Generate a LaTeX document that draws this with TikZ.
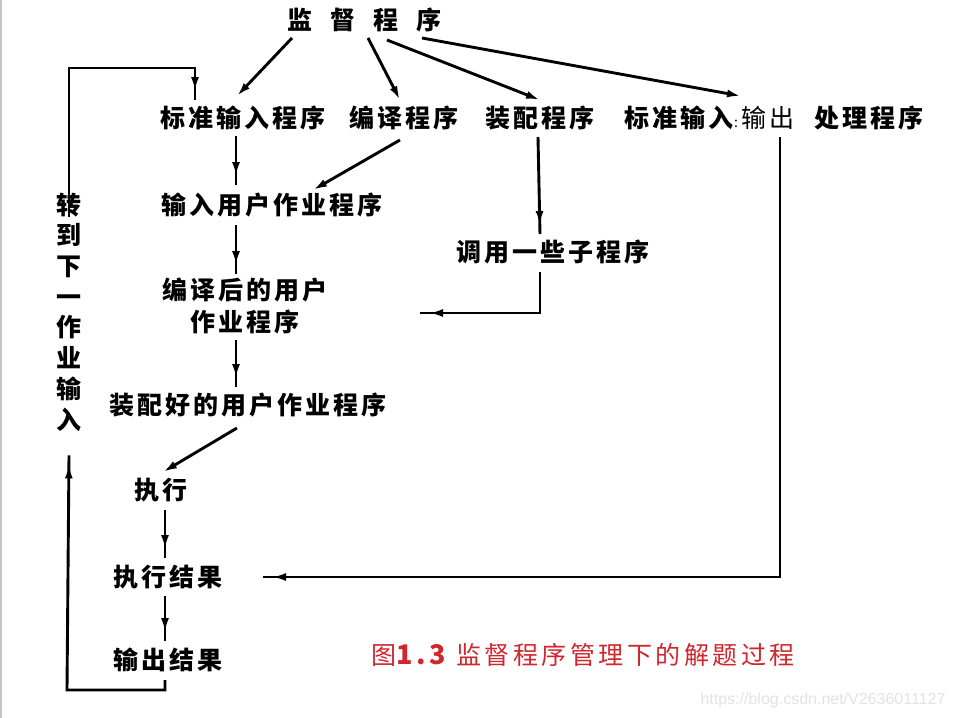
\documentclass[tikz,border=0pt]{standalone}
\usepackage{fontspec}
\usetikzlibrary{arrows.meta,decorations.markings}
\newfontfamily\cjk[LetterSpace=12]{Noto Sans CJK SC}
\newfontfamily\cjkcap[LetterSpace=14]{Noto Sans CJK SC}
\newfontfamily\wmfont{Liberation Sans}
\definecolor{capred}{RGB}{210,38,46}
\tikzset{
  lbl/.style={inner sep=0pt, font=\cjk\bfseries\fontsize{25}{30}\selectfont},
  conn/.style={line width=2.9pt, draw=black},
  arr/.style={conn, postaction={decorate},
    decoration={markings, mark=at position -9pt with {\arrow{Latex[length=14pt,width=8pt]}}}},
  arrend/.style={conn, -{Latex[length=14pt,width=8pt]}},
}
\begin{document}
\begin{tikzpicture}[x=1pt,y=-1pt]
\useasboundingbox (0,0) rectangle (954,718);
\fill[white] (0,0) rectangle (954,718);
\draw[gray!45, line width=2pt] (1,0) -- (1,718);

% nodes
\node[lbl] (title) at (364,20) {监\hspace{18pt}督\hspace{18pt}程\hspace{18pt}序};
\node[lbl] (n1) at (243,118) {标准输入程序};
\node[lbl] (n2) at (404,118) {编译程序};
\node[lbl] (n3) at (540,118) {装配程序};
\node[lbl] (n4) at (774,118) {标准输入\hspace{1pt}{\mdseries\fontsize{14}{14}\selectfont :}\hspace{4pt}{\mdseries 输出}\hspace{20pt}处理程序};
\node[lbl] (n5) at (272,205) {输入用户作业程序};
\node[lbl] (n6) at (553,252) {调用一些子程序};
\node[lbl, align=center, font=\cjk\bfseries\fontsize{25}{32}\selectfont] (n7) at (245,306) {编译后的用户\\作业程序};
\node[lbl] (n8) at (248,405) {装配好的用户作业程序};
\node[lbl] (n9) at (161,490) {执行};
\node[lbl] (n10) at (168,577) {执行结果};
\node[lbl] (n11) at (168,660) {输出结果};
\node[lbl, align=center, font=\cjk\bfseries\fontsize{25}{30.7}\selectfont] (v) at (69,312) {转\\到\\下\\一\\作\\业\\输\\入};
\node[inner sep=0pt, text=capred, font=\cjkcap\fontsize{25}{30}\selectfont] (cap) at (583,655) {图{\bfseries\fontsize{27}{30}\selectfont 1.3}\hspace{10pt}监督程序管理下的解题过程};
\node[inner sep=0pt, text=gray!22, font=\wmfont\fontsize{16}{16}\selectfont] (wm) at (823,700) {https://blog.csdn.net/V2636011127};

% coordinates for free ends
\coordinate (c1) at (420,313);
\coordinate (c2) at (67,690);
\coordinate (c3) at (780,137);

% top fan-out
\draw[arrend] ([shift={(-72,18)}]title.center) -- ([shift={(-6,-22)}]n1.center);
\draw[arrend] ([shift={(4,18)}]title.center) -- ([shift={(-4,-18)}]n2.center);
\draw[arrend] ([shift={(23,20)}]title.center) -- ([shift={(0,-18)}]n3.center);
\draw[arrend] ([shift={(58,18)}]title.center) -- ([shift={(-33,-22)}]n4.center);

% feedback loop top
\draw[arr] ([yshift=-24]v.north) |- (195,68) -- ([shift={(-48,-18)}]n1.center);

% left column
\draw[arr] ([shift={(-7,18)}]n1.center) -- ([shift={(-36,-20)}]n5.center);
\draw[arrend] ([shift={(-4,22)}]n2.center) -- ([shift={(41,-15)}]n5.center);
\draw[arr] ([shift={(-2,19)}]n3.center) -- ([shift={(-13,-18)}]n6.center);
\draw[arr] ([shift={(-13,20)}]n6.center) |- (c1);
\draw[arr] ([shift={(-36,20)}]n5.center) -- ([shift={(-9,-32)}]n7.center);
\draw[arr] ([shift={(-9,34)}]n7.center) -- ([shift={(-12,-18)}]n8.center);
\draw[arrend] ([shift={(-11,23)}]n8.center) -- ([shift={(2,-18)}]n9.center);
\draw[arr] ([shift={(4,20)}]n9.center) -- ([shift={(-3,-19)}]n10.center);
\draw[arr] ([shift={(-3,19)}]n10.center) -- ([shift={(-3,-19)}]n11.center);

% right feedback
\draw[arr] (c3) |- ([shift={(95,0)}]n10.center);

% bottom loop
\draw[arr] ([shift={(-3,20)}]n11.center) |- (c2) -- ([yshift=-24]v.south);
\end{tikzpicture}
\end{document}
